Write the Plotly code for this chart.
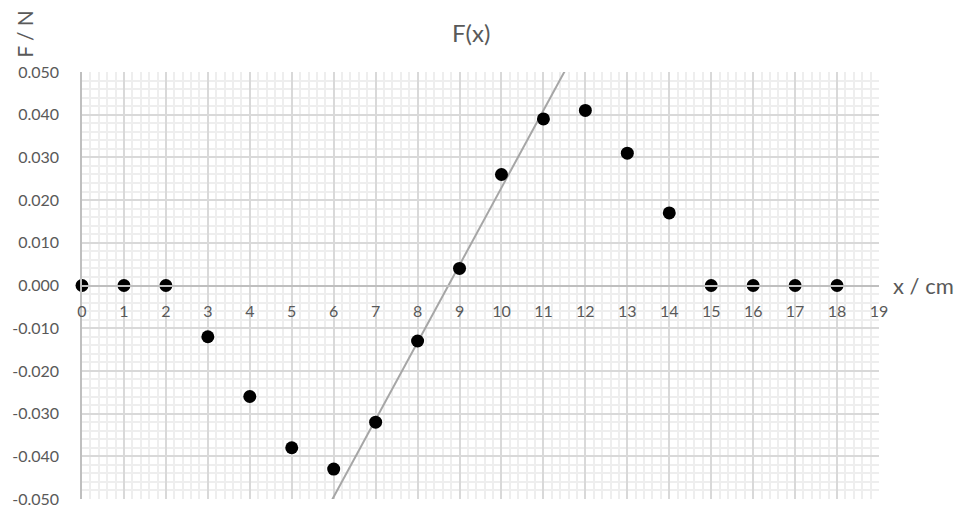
import numpy as np
import plotly.graph_objects as go

x_cm = list(range(19))
force_n = [0.0, 0.0, 0.0, -0.012, -0.026, -0.038, -0.043, -0.032, -0.013, 0.004,
           0.026, 0.039, 0.041, 0.031, 0.017, 0.0, 0.0, 0.0, 0.0]
fit_idx = [7, 8, 9, 10, 11]
x_ticks = list(range(20))
y_ticks = [-0.05, -0.04, -0.03, -0.02, -0.01, 0.0, 0.01, 0.02, 0.03, 0.04, 0.05]

fx = np.array([x_cm[i] for i in fit_idx], dtype=float)
fy = np.array([force_n[i] for i in fit_idx])
slope, intercept = np.polyfit(fx, fy, 1)
line_x = np.array([5.0, 12.0])
line_y = slope * line_x + intercept

FONT = "Lato, 'Open Sans', sans-serif"
GRAY = "#595959"

fig = go.Figure()
fig.add_trace(go.Scatter(x=line_x, y=line_y, mode="lines",
                         line=dict(color="#a6a6a6", width=2), showlegend=False,
                         hoverinfo="skip"))
fig.add_trace(go.Scatter(x=x_cm, y=force_n, mode="markers",
                         marker=dict(color="black", size=13), cliponaxis=False,
                         showlegend=False))

fig.update_layout(
    width=957, height=502,
    margin=dict(l=74, r=86, t=64, b=11, autoexpand=False),
    paper_bgcolor="white", plot_bgcolor="white",
    font=dict(family=FONT, color=GRAY, size=16),
    title=dict(text="F(x)", x=0.484, xanchor="center", y=0.95, yanchor="middle",
               font=dict(size=24, color=GRAY, family=FONT)),
    xaxis=dict(range=[0, 19], tickvals=x_ticks, ticktext=[str(v) for v in x_ticks],
               showgrid=True, gridcolor="#d9d9d9", gridwidth=2,
               minor=dict(dtick=0.2, showgrid=True, gridcolor="#eeeeee", gridwidth=2),
               zeroline=False, showline=True, linecolor="#bfbfbf", linewidth=1.5,
               anchor="free", position=0.5, ticks="", ticklabelstandoff=12,
               automargin=False, tickfont=dict(size=16, color=GRAY)),
    yaxis=dict(range=[-0.05, 0.05], tickvals=y_ticks,
               ticktext=[f"{v:.3f}" for v in y_ticks],
               showgrid=True, gridcolor="#d9d9d9", gridwidth=2,
               minor=dict(dtick=0.002, showgrid=True, gridcolor="#eeeeee", gridwidth=2),
               zeroline=False, showline=True, linecolor="#bfbfbf", linewidth=1.5,
               ticks="", ticklabelstandoff=18, automargin=False,
               tickfont=dict(size=16, color=GRAY)),
    annotations=[
        dict(text="F / N", xref="paper", yref="paper", x=-0.073, y=1.028,
             xanchor="center", yanchor="bottom", textangle=-90, showarrow=False,
             font=dict(size=21, color=GRAY, family=FONT)),
        dict(text="x / cm", xref="paper", yref="paper", x=1.015, y=0.5,
             xanchor="left", yanchor="middle", showarrow=False,
             font=dict(size=22, color=GRAY, family=FONT)),
    ],
)

fig.write_html("out.html")
